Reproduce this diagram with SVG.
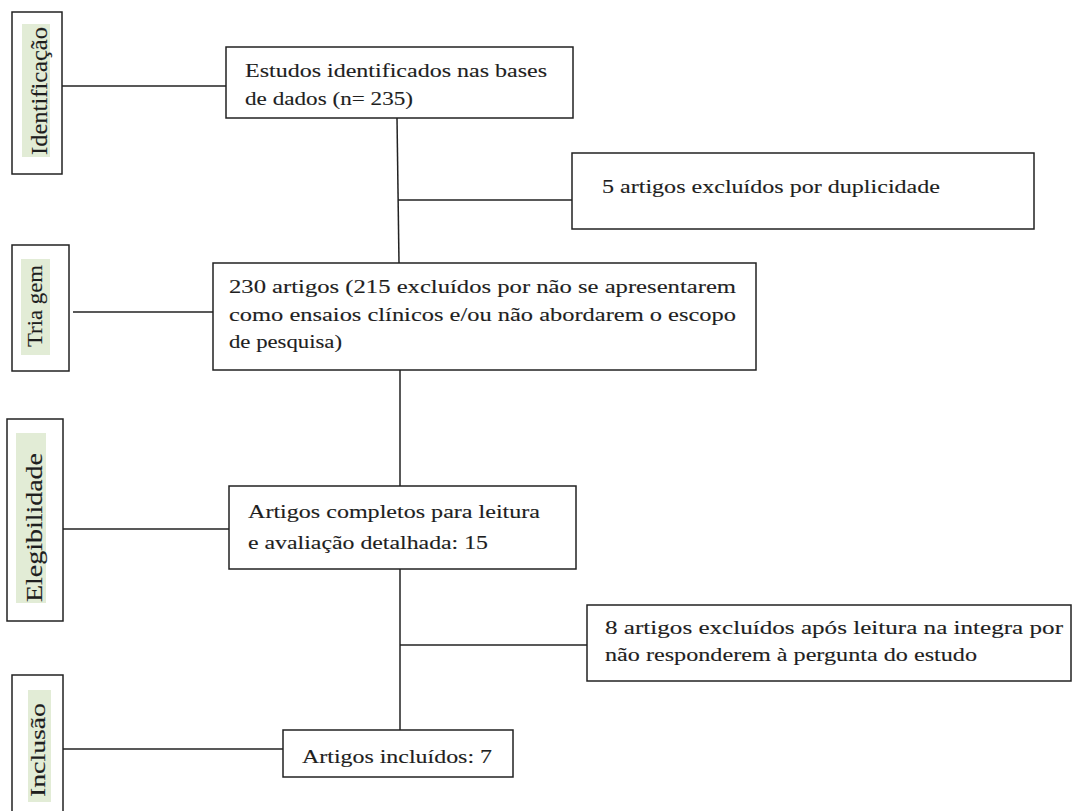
<svg xmlns="http://www.w3.org/2000/svg" width="1072" height="811" viewBox="0 0 1072 811">
<style>
.box{fill:#fff;stroke:#222;stroke-width:1.5}
.hl{fill:#e2ecd6}
.t{font-family:'Liberation Serif','DejaVu Serif',serif;font-size:18.5px;fill:#1e1e1e;stroke:#1e1e1e;stroke-width:0.12}
.s{font-family:'Liberation Serif','DejaVu Serif',serif;fill:#1e1e1e;stroke:#1e1e1e;stroke-width:0.15}
.ln{stroke:#222;stroke-width:1.5;fill:none}
</style>
<rect width="1072" height="811" fill="#fff"/>
<g id="connectors">
<line class="ln" x1="62" y1="86" x2="226" y2="86"/>
<line class="ln" x1="73" y1="312" x2="213" y2="312"/>
<line class="ln" x1="63" y1="529" x2="229" y2="529"/>
<line class="ln" x1="63" y1="749" x2="283" y2="749"/>
<line class="ln" x1="397" y1="118" x2="399" y2="263"/>
<line class="ln" x1="398" y1="200" x2="572" y2="200"/>
<line class="ln" x1="400" y1="370" x2="400" y2="486"/>
<line class="ln" x1="400" y1="569" x2="400" y2="730"/>
<line class="ln" x1="400" y1="645" x2="587" y2="645"/>
</g>
<g id="stage-identificacao">
<rect class="box" x="12" y="12" width="50" height="162"/>
<rect class="hl" x="22" y="24" width="28" height="133"/>
<text class="s" font-family="Liberation Serif, DejaVu Serif, serif" font-size="24" transform="translate(47,155) rotate(-90)" textLength="128" lengthAdjust="spacingAndGlyphs">Identificação</text>
</g>
<g id="stage-triagem">
<rect class="box" x="12" y="245" width="57" height="126"/>
<rect class="hl" x="21" y="259" width="29" height="96"/>
<text class="s" font-family="Liberation Serif, DejaVu Serif, serif" font-size="21" transform="translate(42,347) rotate(-90)" textLength="82" lengthAdjust="spacingAndGlyphs">Tria gem</text>
</g>
<g id="stage-elegibilidade">
<rect class="box" x="7" y="419" width="56" height="202"/>
<rect class="hl" x="16" y="433" width="30" height="170"/>
<text class="s" font-family="Liberation Serif, DejaVu Serif, serif" font-size="24" transform="translate(42,602) rotate(-90)" textLength="149" lengthAdjust="spacingAndGlyphs">Elegibilidade</text>
</g>
<g id="stage-inclusao">
<rect class="box" x="12" y="675" width="51" height="150"/>
<rect class="hl" x="28" y="690" width="23" height="112"/>
<text class="s" font-family="Liberation Serif, DejaVu Serif, serif" font-size="21" transform="translate(45,797) rotate(-90)" textLength="94" lengthAdjust="spacingAndGlyphs">Inclusão</text>
</g>
<g id="node-identificados">
<rect class="box" x="226" y="47" width="347" height="71"/>
<text class="t" font-family="Liberation Serif, DejaVu Serif, serif" x="245" y="77" textLength="302" lengthAdjust="spacingAndGlyphs">Estudos identificados nas bases</text>
<text class="t" font-family="Liberation Serif, DejaVu Serif, serif" x="245" y="105" textLength="168" lengthAdjust="spacingAndGlyphs">de dados (n= 235)</text>
</g>
<g id="node-duplicidade">
<rect class="box" x="572" y="153" width="462" height="76"/>
<text class="t" font-family="Liberation Serif, DejaVu Serif, serif" x="602" y="193" textLength="338" lengthAdjust="spacingAndGlyphs">5 artigos excluídos por duplicidade</text>
</g>
<g id="node-triagem">
<rect class="box" x="213" y="263" width="543" height="107"/>
<text class="t" font-family="Liberation Serif, DejaVu Serif, serif" x="229" y="293" textLength="507" lengthAdjust="spacingAndGlyphs">230 artigos (215 excluídos por não se apresentarem</text>
<text class="t" font-family="Liberation Serif, DejaVu Serif, serif" x="229" y="321" textLength="507" lengthAdjust="spacingAndGlyphs">como ensaios clínicos e/ou não abordarem o escopo</text>
<text class="t" font-family="Liberation Serif, DejaVu Serif, serif" x="229" y="348" textLength="113" lengthAdjust="spacingAndGlyphs">de pesquisa)</text>
</g>
<g id="node-completos">
<rect class="box" x="229" y="486" width="347" height="83"/>
<text class="t" font-family="Liberation Serif, DejaVu Serif, serif" x="248" y="518" textLength="292" lengthAdjust="spacingAndGlyphs">Artigos completos para leitura</text>
<text class="t" font-family="Liberation Serif, DejaVu Serif, serif" x="248" y="549" textLength="240" lengthAdjust="spacingAndGlyphs">e avaliação detalhada: 15</text>
</g>
<g id="node-excluidos-leitura">
<rect class="box" x="587" y="605" width="484" height="76"/>
<text class="t" font-family="Liberation Serif, DejaVu Serif, serif" x="605" y="634" textLength="458" lengthAdjust="spacingAndGlyphs">8 artigos excluídos após leitura na integra por</text>
<text class="t" font-family="Liberation Serif, DejaVu Serif, serif" x="605" y="661" textLength="372" lengthAdjust="spacingAndGlyphs">não responderem à pergunta do estudo</text>
</g>
<g id="node-incluidos">
<rect class="box" x="283" y="730" width="230" height="47"/>
<text class="t" font-family="Liberation Serif, DejaVu Serif, serif" x="302" y="763" textLength="190" lengthAdjust="spacingAndGlyphs">Artigos incluídos: 7</text>
</g>
</svg>
